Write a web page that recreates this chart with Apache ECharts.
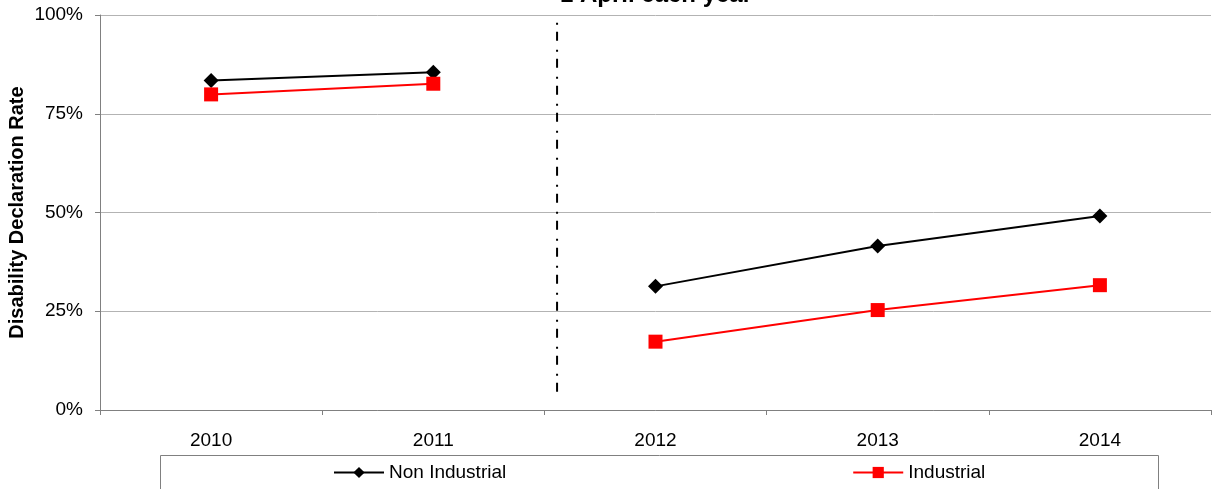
<!DOCTYPE html>
<html>
<head>
<meta charset="utf-8">
<script src="https://cdn.jsdelivr.net/npm/echarts@6/dist/echarts.min.js"></script>
<style>html,body{margin:0;padding:0;background:#fff}#c{width:1212px;height:489px}</style>
</head>
<body>
<div id="c"></div>
<script>
var categories = ['2010', '2011', '2012', '2013', '2014'];
var nonIndustrialBefore = [83.4, 85.5, null, null, null];
var nonIndustrialAfter = [null, null, 31.3, 41.5, 49.1];
var industrialBefore = [79.9, 82.6, null, null, null];
var industrialAfter = [null, null, 17.3, 25.3, 31.6];
var yTicks = [0, 25, 50, 75, 100];
var separatorAt = 2.057;          // position between 2011 and 2012, in category widths
var separatorRange = [4.6, 98.7]; // vertical extent of the separator, in %
var titleText = '1 April each year';
var yAxisTitle = 'Disability Declaration Rate';

var chart = echarts.init(document.getElementById('c'), null, {renderer: 'canvas'});
var font = 'Liberation Sans, Arial, sans-serif';

function lineSeries(name, data, color, symbol, size) {
  return {
    name: name, type: 'line', data: data, xAxisIndex: 0, yAxisIndex: 0,
    symbol: symbol, symbolSize: size, connectNulls: false,
    lineStyle: {color: color, width: 2},
    itemStyle: {color: color},
    emphasis: {disabled: true}, animation: false
  };
}

chart.setOption({
  animation: false,
  title: {
    text: titleText, left: 651, top: -22, textAlign: 'center',
    textStyle: {fontFamily: font, fontSize: 24, fontWeight: 'bold', color: '#000'}
  },
  grid: {left: 100, right: 1, top: 15, bottom: 79, containLabel: false, outerBoundsMode: 'none'},
  legend: {
    data: ['Non Industrial', 'Industrial'],
    left: 333, top: 463, padding: 0, itemWidth: 50, itemHeight: 14, itemGap: 346,
    textStyle: {fontFamily: font, fontSize: 19, color: '#000'},
    selectedMode: false
  },
  graphic: [{
    type: 'rect', shape: {x: 160.5, y: 455.5, width: 998, height: 40},
    style: {fill: 'none', stroke: '#808080', lineWidth: 1}, silent: true, z: 0
  }],
  xAxis: [{
    type: 'category', data: categories, boundaryGap: true,
    axisLine: {lineStyle: {color: '#808080', width: 1}},
    axisTick: {show: true, length: 5, lineStyle: {color: '#808080'}, alignWithLabel: false},
    axisLabel: {fontFamily: font, fontSize: 19, color: '#000', margin: 21},
    splitLine: {show: false}
  }, {
    type: 'value', min: 0, max: 5, show: false
  }],
  yAxis: {
    type: 'value', min: yTicks[0], max: yTicks[yTicks.length - 1], interval: 25,
    name: yAxisTitle, nameLocation: 'middle', nameGap: 73, nameRotate: 90,
    nameMoveOverlap: false,
    nameTextStyle: {fontFamily: font, fontSize: 20, fontWeight: 'bold', color: '#000'},
    axisLine: {show: true, lineStyle: {color: '#808080'}},
    axisTick: {show: true, length: 5, lineStyle: {color: '#808080'}},
    axisLabel: {fontFamily: font, fontSize: 19, color: '#000', margin: 17,
      formatter: function (v) { return v + '%'; }},
    splitLine: {show: true, lineStyle: {color: '#b3b3b3', width: 1}}
  },
  series: [
    lineSeries('Non Industrial', nonIndustrialBefore, '#000000', 'diamond', 15),
    lineSeries('Non Industrial', nonIndustrialAfter, '#000000', 'diamond', 15),
    lineSeries('Industrial', industrialBefore, '#ff0000', 'rect', 14),
    lineSeries('Industrial', industrialAfter, '#ff0000', 'rect', 14),
    {
      type: 'line', xAxisIndex: 1, yAxisIndex: 0, silent: true, symbol: 'none',
      data: [[separatorAt, separatorRange[0]], [separatorAt, separatorRange[1]]],
      lineStyle: {color: '#000', width: 2, type: [9, 7, 2, 9]}, animation: false
    }
  ]
});
</script>
</body>
</html>
